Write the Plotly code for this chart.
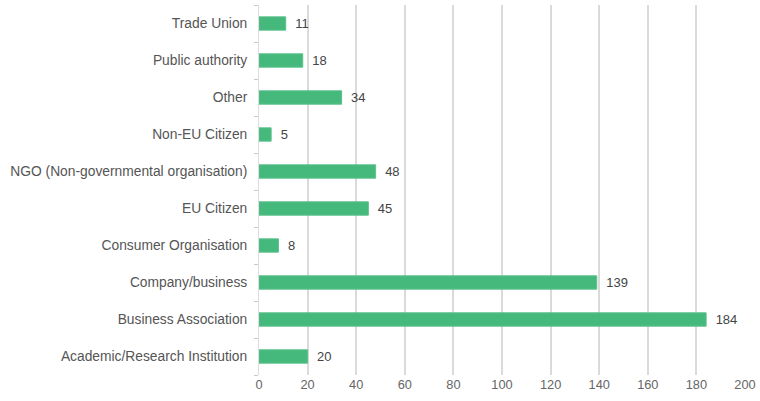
import plotly.graph_objects as go

categories = ["Academic/Research Institution", "Business Association", "Company/business",
              "Consumer Organisation", "EU Citizen", "NGO (Non-governmental organisation)",
              "Non-EU Citizen", "Other", "Public authority", "Trade Union"]
values = [20, 184, 139, 8, 45, 48, 5, 34, 18, 11]
x_ticks = [0, 20, 40, 60, 80, 100, 120, 140, 160, 180, 200]

fig = go.Figure(go.Bar(
    x=values, y=categories, orientation="h",
    marker=dict(color="#45b97c", line=dict(width=1, color="#5cc08c")),
    width=0.36,
    text=["\u2002" + str(v) for v in values], textposition="outside",
    constraintext="none",
    textfont=dict(family="Liberation Sans, Arial", size=13, color="#444"),
    cliponaxis=False,
))
fig.update_layout(
    width=760, height=401,
    margin=dict(l=259, r=15, t=5, b=26),
    plot_bgcolor="white", paper_bgcolor="white",
    font=dict(family="Liberation Sans, Arial", size=12, color="#555"),
    showlegend=False,
    xaxis=dict(range=[0, 200], tickvals=x_ticks, showgrid=True, gridcolor="#dadada",
               gridwidth=1.5, zeroline=False, showline=False, ticks="",
               tickfont=dict(size=12.8, color="#666")),
    yaxis=dict(showline=True, linecolor="#dddddd", linewidth=1, ticks="outside",
               tickson="boundaries", ticklen=4, tickcolor="#cccccc", showgrid=False,
               ticklabelstandoff=8,
               tickfont=dict(size=13.8, color="#555"), range=[-0.5, 9.5]),
)
fig.write_html("out.html", config={"displayModeBar": False},
               post_script="document.body.style.margin='0';")
